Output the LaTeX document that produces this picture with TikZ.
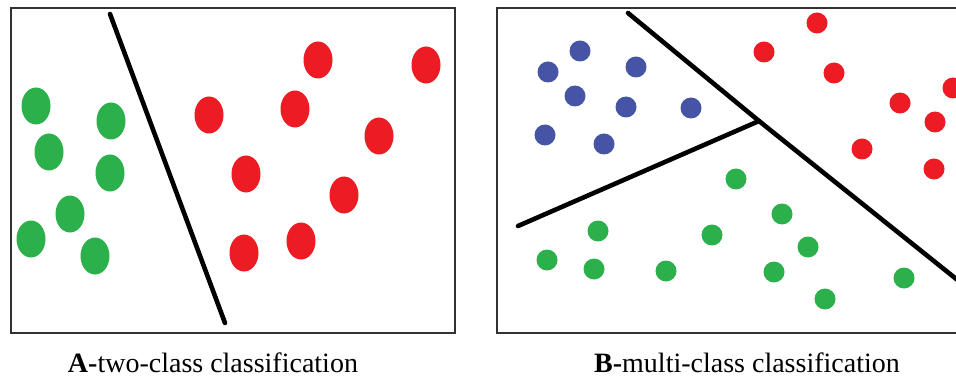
\documentclass[tikz,border=0pt]{standalone}
\usepackage{fontspec}
\setmainfont{Liberation Serif}
\usepackage{tikz}
\usetikzlibrary{calc}
\definecolor{leaf}{RGB}{44,176,75}
\definecolor{cherry}{RGB}{237,28,36}
\definecolor{indigo}{RGB}{70,84,165}
\definecolor{frame}{RGB}{50,50,50}
\tikzset{
  panel/.style={draw=frame,line width=1.6pt},
  divider/.style={draw=black,line width=4.6pt,line cap=round},
  blob/.style={fill=#1},
  blob/.default=leaf,
  caption/.style={anchor=base,font=\fontsize{28}{32}\selectfont},
}

\begin{document}
\begin{tikzpicture}[x=1pt,y=-1pt]
  \clip (0,0) rectangle (956,377);
  \fill[white] (0,0) rectangle (956,377);
  % panel A
  \draw[panel] (11,8) rectangle (455,333);
  \coordinate (aTop) at (110,14);
  \coordinate (aBot) at (225,323);
  \draw[divider] (aTop) -- (aBot);
  \foreach \x/\y in {36/106,49/152,111/121,110/173,70/214,31/239,95/256}
    \fill[blob=leaf] (\x,\y) ellipse (14.5 and 18.5);
  \foreach \x/\y in {318/60,426/65,209/115,295/109,379/136,246/174,344/195,244/253,301/241}
    \fill[blob=cherry] (\x,\y) ellipse (14.5 and 18.5);
  \node[caption] (capA) at (213,372) {\textbf{A-}two-class classification};
  % panel B
  \draw[panel] (497,8) rectangle (990,333);
  \coordinate (bTop) at (628,13);
  \coordinate (junction) at (759,121);
  \coordinate (bOut) at (980,298);
  \coordinate (bLeft) at (518,226);
  \draw[divider] (bTop) -- (junction) -- (bOut);
  \draw[divider] (bLeft) -- (junction);
  \foreach \x/\y in {580/51,548/72,636/67,575/96,626/107,691/108,545/135,604/144}
    \fill[blob=indigo] (\x,\y) circle (10.5);
  \foreach \x/\y in {817/23,764/52,834/73,953/88,900/103,935/122,862/149,934/169}
    \fill[blob=cherry] (\x,\y) circle (10.5);
  \foreach \x/\y in {736/179,782/214,598/231,712/235,808/247,547/260,594/269,666/271,774/272,825/299,904/278}
    \fill[blob=leaf] (\x,\y) circle (10.5);
  \node[caption] (capB) at (747,372) {\textbf{B-}multi-class classification};
\end{tikzpicture}
\end{document}
